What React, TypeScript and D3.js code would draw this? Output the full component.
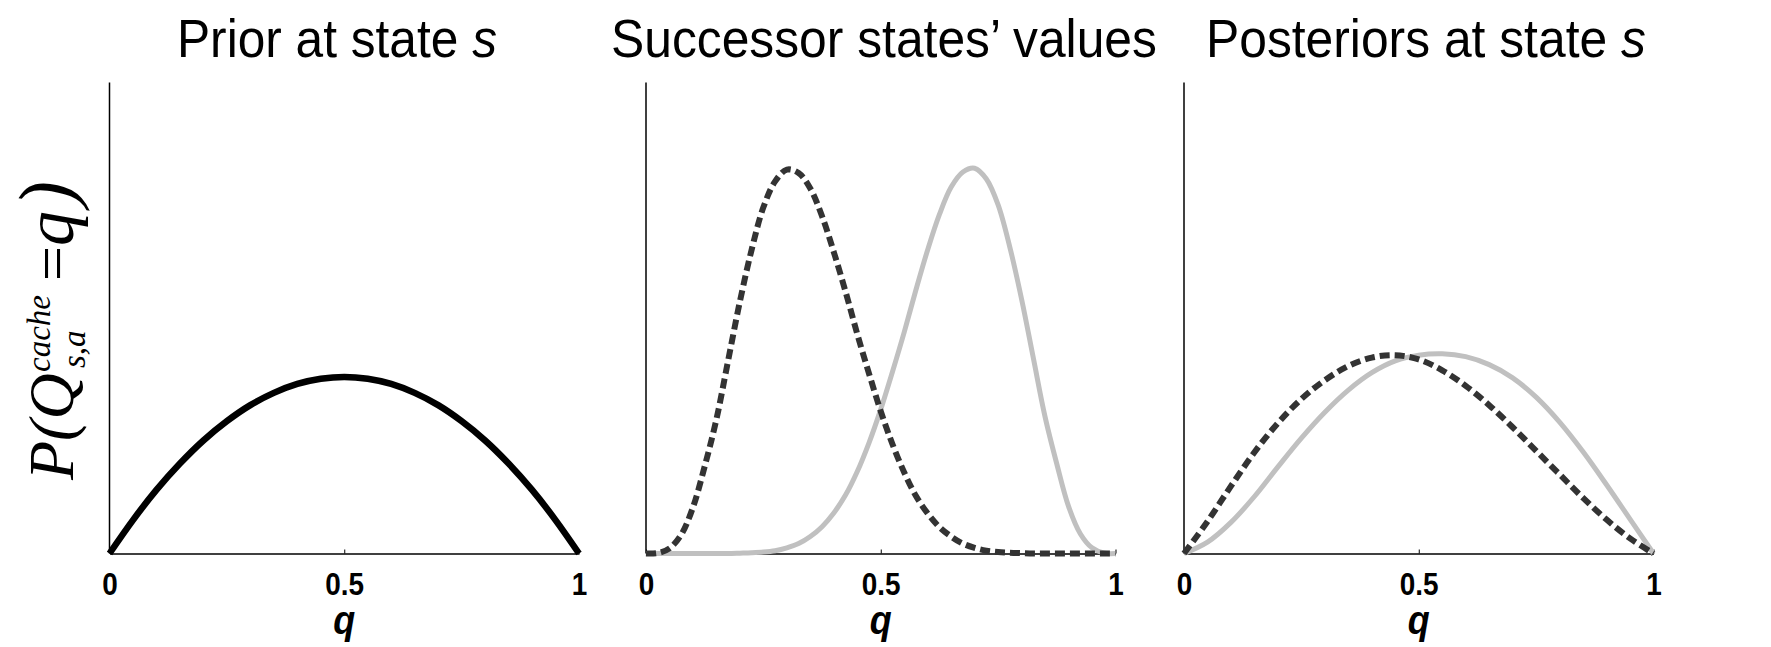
import React, { useEffect, useRef } from 'react';
import * as d3 from 'd3';

// q grids: coarse for the broad curves, fine for the narrow successor curves
const qCoarse = [0, 0.05, 0.1, 0.15, 0.2, 0.25, 0.3, 0.35, 0.4, 0.45, 0.5, 0.55, 0.6, 0.65, 0.7, 0.75, 0.8, 0.85, 0.9, 0.95, 1];
const qFine = [
  0, 0.025, 0.05, 0.075, 0.1, 0.125, 0.15, 0.175, 0.2, 0.225, 0.25, 0.275, 0.3, 0.325, 0.35, 0.375, 0.4, 0.425, 0.45, 0.475,
  0.5, 0.525, 0.55, 0.575, 0.6, 0.625, 0.65, 0.675, 0.7, 0.725, 0.75, 0.775, 0.8, 0.825, 0.85, 0.875, 0.9, 0.925, 0.95, 0.975, 1,
];

// heights, as a fraction of the y axis
const priorValues = [0, 0.071, 0.135, 0.191, 0.24, 0.281, 0.315, 0.341, 0.36, 0.371, 0.375, 0.371, 0.36, 0.341, 0.315, 0.281, 0.24, 0.191, 0.135, 0.071, 0];
const successorLow = [
  0, 0.001, 0.011, 0.04, 0.098, 0.185, 0.285, 0.41, 0.535, 0.645, 0.735, 0.79, 0.815, 0.808, 0.775, 0.716, 0.64, 0.556, 0.466, 0.382,
  0.302, 0.232, 0.172, 0.122, 0.085, 0.056, 0.036, 0.021, 0.012, 0.006, 0.003, 0.0015, 0.0007, 0, 0, 0, 0, 0, 0, 0, 0,
];
const successorHigh = [
  0, 0, 0, 0, 0, 0, 0, 0, 0.0007, 0.0015, 0.003, 0.006, 0.012, 0.021, 0.036, 0.057, 0.086, 0.124, 0.174, 0.235,
  0.306, 0.386, 0.47, 0.56, 0.645, 0.72, 0.778, 0.81, 0.818, 0.795, 0.74, 0.65, 0.54, 0.415, 0.29, 0.19, 0.1, 0.042, 0.012, 0.001, 0,
];
const posteriorLow = [0, 0.068, 0.143, 0.215, 0.277, 0.328, 0.368, 0.398, 0.416, 0.421, 0.412, 0.389, 0.356, 0.315, 0.268, 0.218, 0.168, 0.118, 0.072, 0.032, 0];
const posteriorHigh = [0, 0.024, 0.066, 0.121, 0.184, 0.245, 0.3, 0.347, 0.384, 0.409, 0.421, 0.424, 0.418, 0.401, 0.373, 0.332, 0.279, 0.216, 0.146, 0.073, 0];

const xTicks = [0, 0.5, 1];
const panelTitles = [
  { text: 'Prior at state ', italic: 's' },
  { text: 'Successor states\u2019 values', italic: '' },
  { text: 'Posteriors at state ', italic: 's' },
];

export default function App() {
  const chartRef = useRef<SVGSVGElement>(null);

  useEffect(() => {
    const svg = d3.select(chartRef.current);
    svg.selectAll('*').remove();

    const top = 82.5;
    const bottom = 553.5;
    const panelWidth = 469.5;
    const panelLeft = [109.5, 646, 1184];
    const titleLeft = [177, 611, 1206];
    const titleWidth = [320, 546, 440];

    const dark = { color: '#333333', width: 6, dash: '10,5' };
    const light = { color: '#c0c0c0', width: 5, dash: null };
    const black = { color: '#000000', width: 6.5, dash: null };

    const panels = [
      [{ q: qCoarse, values: priorValues, ...black }],
      [{ q: qFine, values: successorHigh, ...light }, { q: qFine, values: successorLow, ...dark }],
      [{ q: qCoarse, values: posteriorHigh, ...light }, { q: qCoarse, values: posteriorLow, ...dark }],
    ];

    const yScale = d3.scaleLinear().domain([0, 1]).range([bottom, top]);

    panels.forEach((series, i) => {
      const xScale = d3.scaleLinear().domain([0, 1]).range([panelLeft[i], panelLeft[i] + panelWidth]);
      const g = svg.append('g');

      // y axis: bare line, no ticks
      g.append('line')
        .attr('x1', xScale(0)).attr('x2', xScale(0))
        .attr('y1', top).attr('y2', bottom)
        .attr('stroke', '#000').attr('stroke-width', 1.5);

      const xAxis = d3.axisBottom(xScale)
        .tickValues(xTicks)
        .tickFormat((d) => String(d))
        .tickSizeInner(-4)
        .tickSizeOuter(0)
        .tickPadding(20);

      const axisG = g.append('g')
        .attr('transform', `translate(0, ${bottom})`)
        .call(xAxis);
      axisG.select('.domain').attr('stroke', '#000').attr('stroke-width', 1.5);
      axisG.selectAll('.tick line').attr('stroke', '#000').attr('stroke-width', 1);
      axisG.selectAll('.tick text')
        .attr('fill', '#000')
        .attr('transform', 'scale(0.9,1)')
        .style('font-family', '"Liberation Sans", Arial, sans-serif')
        .style('font-weight', 'bold')
        .style('font-size', '31px');

      // x label
      g.append('text')
        .attr('transform', `translate(${xScale(0.5)}, 634) scale(0.9,1)`)
        .attr('text-anchor', 'middle')
        .style('font-family', '"Liberation Sans", Arial, sans-serif')
        .style('font-weight', 'bold')
        .style('font-style', 'italic')
        .style('font-size', '40px')
        .text('q');

      // curves
      series.forEach((s) => {
        const line = d3.line<number>()
          .x((_, j) => xScale(s.q[j]))
          .y((d) => yScale(d))
          .curve(d3.curveCatmullRom.alpha(0.5));
        const path = g.append('path')
          .attr('d', line(s.values))
          .attr('fill', 'none')
          .attr('stroke', s.color)
          .attr('stroke-width', s.width)
          .attr('stroke-linejoin', 'round');
        if (s.dash) path.attr('stroke-dasharray', s.dash);
      });

      // title
      const t = panelTitles[i];
      const title = svg.append('text')
        .attr('x', 0).attr('y', 0)
        .style('font-family', '"Liberation Sans", Arial, sans-serif')
        .style('font-size', '54px')
        .attr('fill', '#000');
      title.append('tspan').text(t.text);
      if (t.italic) title.append('tspan').style('font-style', 'italic').text(t.italic);
      const len = (title.node() as SVGTextElement).getComputedTextLength();
      title.attr('transform', `translate(${titleLeft[i]}, 57) scale(${titleWidth[i] / len}, 1)`);
    });

    // y label, rotated
    const yLabel = svg.append('g')
      .attr('transform', 'translate(73, 480) rotate(-90)')
      .style('font-family', '"Liberation Serif", "Times New Roman", serif')
      .style('font-style', 'italic')
      .attr('fill', '#000');
    yLabel.append('text').attr('x', 0).attr('y', 0).style('font-size', '64px').text('P(Q');
    yLabel.append('text').attr('x', 108).attr('y', -23).style('font-size', '33px').text('cache');
    yLabel.append('text').attr('x', 112).attr('y', 12).style('font-size', '33px').text('s,a');
    yLabel.append('text').attr('x', 195).attr('y', 0).style('font-size', '62px').text('=');
    yLabel.append('text').attr('x', 234).attr('y', 0).style('font-size', '70px').text('q');
    yLabel.append('text').attr('x', 299).attr('y', 0).attr('text-anchor', 'end').style('font-size', '78px').text(')');
  }, []);

  return (
    <svg
      ref={chartRef}
      width={1771}
      height={647}
      style={{ position: 'absolute', left: 0, top: 0, background: '#fff' }}
    />
  );
}
